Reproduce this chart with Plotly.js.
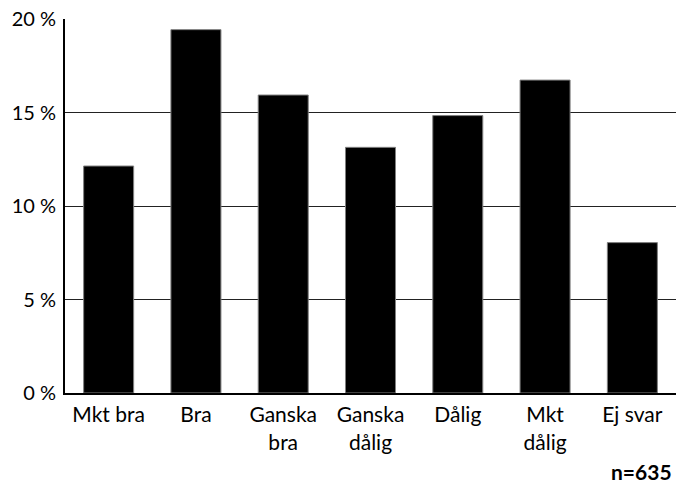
<!DOCTYPE html>
<html>
<head>
<meta charset="utf-8">
<script src="https://cdn.plot.ly/plotly-3.0.1.min.js"></script>
<style>html,body{margin:0;padding:0;background:#fff;}#chart{width:676px;height:485px;}</style>
</head>
<body>
<div id="chart"></div>
<script>
const categories = ["Mkt bra", "Bra", "Ganska<br>bra", "Ganska<br>dålig", "Dålig", "Mkt<br>dålig", "Ej svar"];
const values = [12.15, 19.45, 15.95, 13.15, 14.85, 16.75, 8.05];
const yTicks = [0, 5, 10, 15, 20];
const yTickLabels = ["0 %", "5 %", "10 %", "15 %", "20 %"];
const noteText = "n=635";

const FONT = "Lato, 'Open Sans', sans-serif";

Plotly.newPlot("chart", [{
  type: "bar",
  x: categories,
  y: values,
  marker: {color: "#000000", line: {color: "#808080", width: 1}},
  hoverinfo: "none"
}], {
  width: 676, height: 485,
  margin: {l: 65, r: 0, t: 19, b: 92},
  paper_bgcolor: "#fff", plot_bgcolor: "#fff",
  bargap: 0.427,
  showlegend: false,
  font: {family: FONT, size: 20, color: "#000"},
  xaxis: {
    showline: true, linecolor: "#000", linewidth: 2,
    showgrid: false, ticks: "", ticklabelstandoff: 2,
    tickfont: {family: FONT, size: 21, color: "#000"},
    fixedrange: true
  },
  yaxis: {
    range: [0, 20.02], tickvals: yTicks, ticktext: yTickLabels,
    showline: true, linecolor: "#000", linewidth: 2,
    showgrid: true, gridcolor: "#222", gridwidth: 1,
    zeroline: false, ticks: "", ticklabelstandoff: 3,
    tickfont: {family: FONT, size: 20, color: "#000"},
    fixedrange: true
  },
  annotations: [{
    text: "<b>" + noteText + "</b>", xref: "paper", yref: "paper",
    x: 1, y: 0, xanchor: "right", yanchor: "top", yshift: -64, xshift: -2,
    showarrow: false, font: {family: FONT, size: 21, color: "#000"}
  }]
}, {displayModeBar: false, staticPlot: true});
</script>
</body>
</html>
